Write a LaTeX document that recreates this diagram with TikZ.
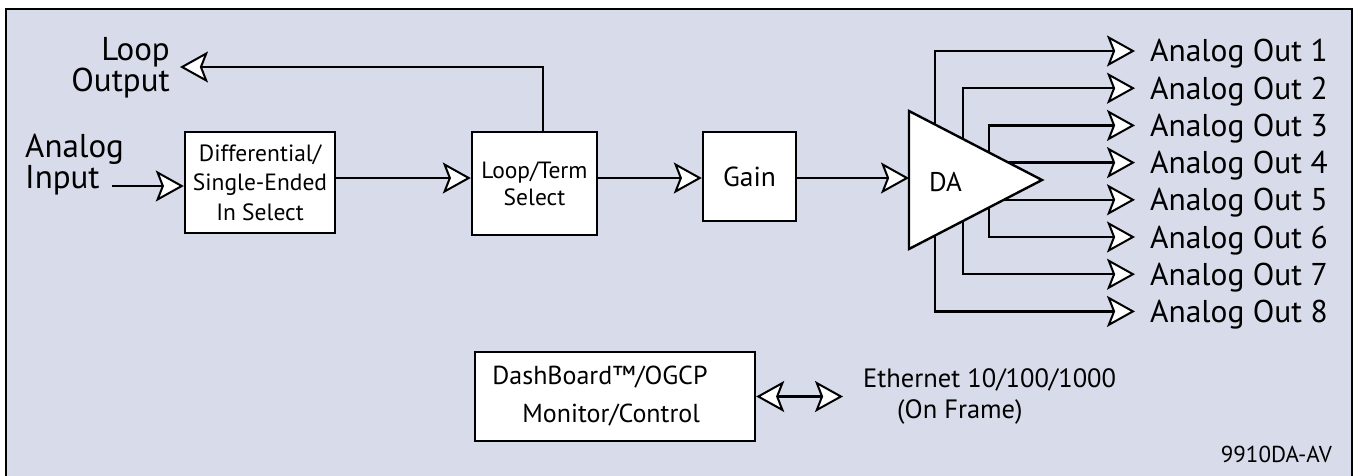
\documentclass[tikz,border=0pt]{standalone}
\usepackage{fontspec}
\setmainfont{PT Sans}
\usepackage{tikz}
\usetikzlibrary{arrows.meta,calc,positioning,shapes.geometric}
\definecolor{panelbg}{RGB}{216,220,234}
\pgfdeclarelayer{back}
\pgfdeclarelayer{wires}
\pgfsetlayers{back,wires,main}
\newcommand{\fsz}[2]{\fontsize{#1}{#2}\selectfont}
\tikzset{%
	block/.style    = {draw, rectangle, fill=white, line width=2.4pt, inner sep=0pt, align=center},
	amp/.style      = {draw, isosceles triangle, isosceles triangle stretches, shape border rotate=0, fill=white, line width=2.4pt, inner sep=0pt, outer sep=0pt, minimum width=138pt, minimum height=133pt},
	txt/.style      = {inner sep=0pt, align=left},
	sig/.style      = {line width=2.4pt, -{Stealth[fill=white, length=28pt, width=31pt, inset=6pt, line width=2pt]}},
	sigboth/.style  = {line width=2.4pt, {Stealth[fill=white, length=28pt, width=31pt, inset=6pt, line width=2pt]}-{Stealth[fill=white, length=28pt, width=31pt, inset=6pt, line width=2pt]}},
}
\begin{document}
\begin{tikzpicture}[x=1pt, y=-1pt]
	\useasboundingbox (0,0) rectangle (1354,476);
	\begin{pgfonlayer}{back}
		\draw[line width=2.5pt, fill=panelbg] (6,9) rectangle (1352,520);
	\end{pgfonlayer}
	
	% signal chain
	\node[block, minimum width=150pt, minimum height=101pt, font=\fsz{23.5}{29.5}] (diff) at (260,182.5) {Differential/\\Single-Ended\\In Select};
	\node[block, minimum width=125pt, minimum height=103pt, font=\fsz{23.5}{27}] (term) at (534.5,183.5) {Loop/Term\\Select};
	\node[block, minimum width=93pt, minimum height=89pt, font=\fsz{27.5}{30}] (gain) at (749.5,176.5) {Gain};
	\node[amp, anchor=apex] (da) at (1042,180) {};
	\node[font=\fsz{27}{30}] (dalbl) at (945.5,182.5) {DA};
	\node[block, align=left, minimum width=280pt, minimum height=89pt, font=\fsz{26}{38}] (dash) at (615,396.5) {DashBoard™/OGCP\hspace*{30pt}\\\hspace*{30pt}Monitor/Control};
	
	\node[txt, anchor=east, align=right, font=\fsz{33}{27}] (loopout) at (170,67.5) {Loop\\Output};
	\node[txt, anchor=west, font=\fsz{33}{26}] (ain) at (25,165) {Analog\\Input};
	\node[txt, anchor=west, font=\fsz{26.5}{31}] (eth) at (863,396) {Ethernet 10/100/1000\\\hspace*{34pt}(On Frame)};
	\node[anchor=base east, inner sep=0pt, font=\fsz{23}{25}] (partno) at (1332,462) {9910DA-AV};
	
	\coordinate (ainend) at (112,186);
	\coordinate (mainy) at (0,178);
	\coordinate (looptip) at (180,67);
	\coordinate (ethtip) at (843,397);
	
	\draw[sig] (ainend) -- (ainend -| diff.west);
	\draw[sig] (diff.east |- mainy) -- (term.west |- mainy);
	\draw[sig] (term.east |- mainy) -- (gain.west |- mainy);
	\draw[sig] (gain.east |- mainy) -- (da.west |- mainy);
	\draw[sig] ([xshift=8.5pt]term.north) |- (looptip);
	\draw[sigboth] (dash.east) -- (dash.east -| ethtip);
	
	% eight outputs
	\foreach \k/\bx in {1/935,2/963,3/989,4/990,5/990,6/989,7/963,8/935}{
		\coordinate (tip\k) at (1135,{51+37.2*(\k-1)});
		\node[anchor=base west, inner sep=0pt, font=\fsz{31.5}{36}] (out\k) at ([xshift=15pt,yshift=-11pt]tip\k) {Analog Out \k};
		\begin{pgfonlayer}{wires}
			\draw[sig] (da.apex -| \bx,0) |- (tip\k);
		\end{pgfonlayer}
	}
\end{tikzpicture}
\end{document}
